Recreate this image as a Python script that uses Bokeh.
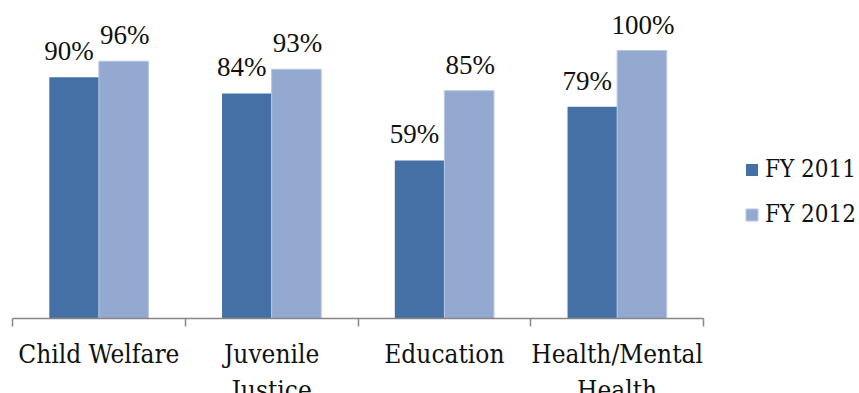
from bokeh.plotting import figure
from bokeh.models import Range1d, FixedTicker, Legend, LegendItem, ColumnDataSource, LabelSet
from bokeh.embed import file_html
from bokeh.resources import INLINE

categories = ["Child Welfare", "Juvenile\nJustice", "Education", "Health/Mental\nHealth"]
fy2011 = [90, 84, 59, 79]
fy2012 = [96, 93, 85, 100]
series_names = ["FY 2011", "FY 2012"]

DARK = "#4470A5"
LIGHT = "#93A9CF"
FONT = "DejaVu Serif Condensed"
FS = "26px"

n = len(categories)
centers = [i + 0.5 for i in range(n)]
bw = 0.287
x_end = n * 847 / 691

p = figure(frame_width=847, frame_height=318, output_backend="svg", toolbar_location=None,
           x_range=Range1d(0, x_end), y_range=Range1d(0, 118.66),
           y_axis_location=None, min_border_left=12, min_border_right=0,
           min_border_top=0, min_border_bottom=10)
p.outline_line_color = None
p.xgrid.visible = False
p.ygrid.visible = False

src = ColumnDataSource(dict(
    x1=[c - bw / 2 for c in centers], x2=[c + bw / 2 for c in centers],
    y1=fy2011, y2=fy2012,
    l1=[f"{v}%" for v in fy2011], l2=[f"{v}%" for v in fy2012]))

r1 = p.vbar(x="x1", top="y1", width=bw, bottom=0, source=src, fill_color=DARK, line_color=None)
r2 = p.vbar(x="x2", top="y2", width=bw, bottom=0, source=src, fill_color=LIGHT, line_color="#B7C7E2", line_width=1)

p.add_layout(LabelSet(x="x1", y="y1", text="l1", source=src, text_align="center", text_baseline="alphabetic",
                      y_offset=17, x_offset=-5, text_font=FONT, text_font_size="27px", text_color="#111111"))
p.add_layout(LabelSet(x="x2", y="y2", text="l2", source=src, text_align="center", text_baseline="alphabetic",
                      y_offset=17, x_offset=1, text_font=FONT, text_font_size="27px", text_color="#111111"))

ax = p.xaxis[0]
ax.bounds = (0, n)
ax.ticker = FixedTicker(ticks=centers, minor_ticks=list(range(n + 1)))
ax.major_label_overrides = {c: lab for c, lab in zip(centers, categories)}
ax.major_tick_out = 0
ax.major_tick_in = 0
ax.minor_tick_out = 8
ax.minor_tick_in = 0
ax.minor_tick_line_color = "#868686"
ax.minor_tick_line_width = 1.5
ax.axis_line_color = "#868686"
ax.axis_line_width = 1.5
ax.major_label_standoff = 12
ax.major_label_text_font = FONT
ax.major_label_text_font_size = FS
ax.major_label_text_color = "#111111"

legend = Legend(items=[LegendItem(label=series_names[0], renderers=[r1]),
                       LegendItem(label=series_names[1], renderers=[r2])],
                location=(732, 90), orientation="vertical",
                glyph_width=15, glyph_height=15, label_standoff=6,
                label_text_font=FONT, label_text_font_size="24px", label_text_color="#111111",
                spacing=17, padding=0, margin=0, border_line_color=None, background_fill_alpha=0)
p.add_layout(legend, "center")

open("out.html", "w").write(file_html(p, INLINE))
